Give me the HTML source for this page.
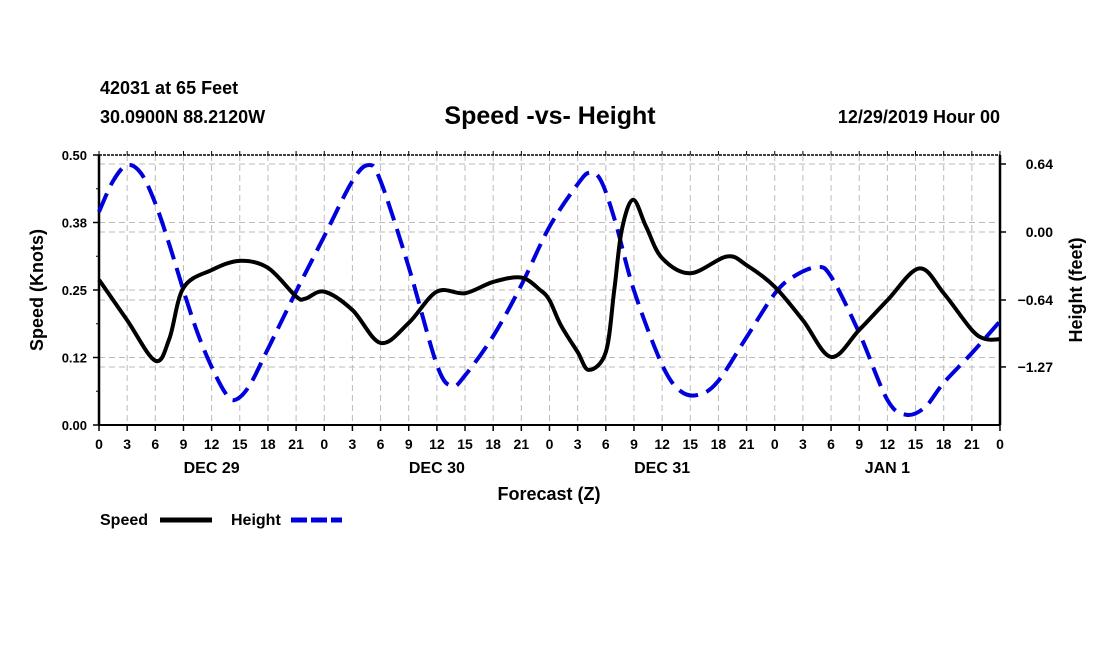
<!DOCTYPE html>
<html><head><meta charset="utf-8">
<style>
body{margin:0;background:#fff;width:1100px;height:650px;overflow:hidden}
svg{font-family:"Liberation Sans",Arial,sans-serif;font-weight:bold}
</style></head>
<body>
<svg id="chart" width="1100" height="650" viewBox="0 0 1100 650" xmlns="http://www.w3.org/2000/svg">
<text x="100" y="94" font-size="18">42031 at 65 Feet</text>
<text x="100" y="123" font-size="18">30.0900N 88.2120W</text>
<text x="550" y="124" font-size="25" text-anchor="middle">Speed -vs- Height</text>
<text x="1000" y="123" font-size="18" text-anchor="end">12/29/2019 Hour 00</text>
<g id="grid"></g>
<g id="axes"></g>
<g id="series"></g>
<text transform="translate(43,290) rotate(-90)" font-size="18" text-anchor="middle">Speed (Knots)</text>
<text transform="translate(1082,290) rotate(-90)" font-size="18" text-anchor="middle">Height (feet)</text>
<text x="549" y="500" font-size="18" text-anchor="middle">Forecast (Z)</text>
<g>
<text x="100" y="525" font-size="16">Speed</text>
<line x1="160" y1="520" x2="212" y2="520" stroke="#000" stroke-width="5"/>
<text x="231" y="525" font-size="16">Height</text>
<line x1="291" y1="520" x2="342" y2="520" stroke="#0000dd" stroke-width="5" stroke-dasharray="16,4"/>
</g>
</svg>
<script>
const dayLabels = ["DEC 29","DEC 30","DEC 31","JAN 1"];
const speedTicks = [0, 0.125, 0.25, 0.375, 0.5];
const speedTickLabels = ["0.00","0.12","0.25","0.38","0.50"];
const heightTicks = [0.64, 0.0, -0.64, -1.27];
const heightTickLabels = ["0.64","0.00","\u22120.64","\u22121.27"];
const speedHours = [0,3,6,7.5,9,12,15,18,21,22,24,27,30,33,36,39,42,45,47,48,49.2,51,52.2,54,54.9,55.7,56.9,58.3,60,63,66.9,69,72,75,78,81,84,87.4,90,93,94.5,96];
const speedValues = [0.269,0.194,0.119,0.16,0.254,0.287,0.304,0.291,0.238,0.234,0.247,0.213,0.152,0.189,0.247,0.244,0.265,0.273,0.25,0.231,0.185,0.135,0.102,0.135,0.25,0.361,0.417,0.367,0.309,0.281,0.312,0.296,0.256,0.194,0.126,0.176,0.231,0.290,0.244,0.176,0.159,0.159];
const heightHours = [0,1.5,3,4.5,6,7.5,9,10.5,12,13.5,14.5,16,18,21,24,27,28.7,30,33,36,37.6,39,42,45,48,51,52.3,53.5,55,57,60,62,64,66,69,72,74,76.5,78,81,84,86,88,90,93,96];
const heightValues = [0.19,0.48,0.63,0.55,0.27,-0.12,-0.55,-0.95,-1.27,-1.52,-1.58,-1.45,-1.10,-0.56,-0.04,0.48,0.63,0.48,-0.33,-1.25,-1.45,-1.35,-0.98,-0.50,0.05,0.45,0.56,0.48,0.10,-0.55,-1.25,-1.50,-1.53,-1.40,-0.99,-0.58,-0.42,-0.33,-0.42,-0.95,-1.58,-1.72,-1.65,-1.42,-1.14,-0.84];

const L=99,R=1000,T=155,B=425,NS="http://www.w3.org/2000/svg";
const xS=h=>L+h*(R-L)/96;
const yS=v=>B-v*(B-T)/0.5;
const yH=v=>232-v*106.25;
function mk(tag,attrs,parent){const e=document.createElementNS(NS,tag);for(const k in attrs)e.setAttribute(k,attrs[k]);parent.appendChild(e);return e;}
const grid=document.getElementById('grid'),axes=document.getElementById('axes'),series=document.getElementById('series');
for(let h=3;h<96;h+=3){const l=mk('line',{x1:xS(h),x2:xS(h),y1:T,y2:B,stroke:'#bbb','stroke-dasharray':'6,4'},grid);

}
speedTicks.forEach((v,i)=>{if(v>0&&v<0.5){const l=mk('line',{x1:L,x2:R,y1:yS(v),y2:yS(v),stroke:'#bbb','stroke-dasharray':'6,4'},grid);

}
mk('line',{x1:L-6,x2:L,y1:yS(v),y2:yS(v),stroke:'#000','stroke-width':1.5},axes);
const t=mk('text',{x:L-12,y:yS(v)+5,'font-size':13,'text-anchor':'end'},axes);t.textContent=speedTickLabels[i];

});
for(let k=0;k<4;k++){const v=0.0625+k*0.125;mk('line',{x1:L-3,x2:L,y1:yS(v),y2:yS(v),stroke:'#000'},axes);}
heightTicks.forEach((v,i)=>{const l=mk('line',{x1:L,x2:R,y1:yH(v),y2:yH(v),stroke:'#bbb','stroke-dasharray':'6,4'},grid);


mk('line',{x1:R,x2:R+6,y1:yH(v),y2:yH(v),stroke:'#000','stroke-width':1.5},axes);
const t=mk('text',{x:1053,y:yH(v)+5,'font-size':14,'text-anchor':'end'},axes);t.textContent=heightTickLabels[i];

});
mk('line',{x1:L,x2:R,y1:T,y2:T,stroke:'#000','stroke-width':1.5,'stroke-dasharray':'3,1'},axes);
mk('line',{x1:L,x2:R,y1:B,y2:B,stroke:'#000','stroke-width':2},axes);
mk('line',{x1:L,x2:L,y1:T,y2:B,stroke:'#000','stroke-width':2.5},axes);
mk('line',{x1:R,x2:R,y1:T,y2:B,stroke:'#000','stroke-width':2.5},axes);
for(let h=0;h<=96;h+=3){mk('line',{x1:xS(h),x2:xS(h),y1:B,y2:B+6,stroke:'#000','stroke-width':1.5},axes);
mk('line',{x1:xS(h),x2:xS(h),y1:T,y2:T-4,stroke:'#000'},axes);
const t=mk('text',{x:xS(h),y:449,'font-size':14,'text-anchor':'middle'},axes);t.textContent=String(h%24);

}
dayLabels.forEach((d,i)=>{const t=mk('text',{x:xS(12+24*i),y:473,'font-size':16,'text-anchor':'middle'},axes);t.textContent=d;

});
function path(xs,ys){const p=xs.map((x,i)=>[x,ys[i]]);let d='M'+p[0][0]+','+p[0][1];
for(let i=0;i<p.length-1;i++){const p0=p[Math.max(i-1,0)],p1=p[i],p2=p[i+1],p3=p[Math.min(i+2,p.length-1)];
d+=' C'+(p1[0]+(p2[0]-p0[0])/6)+','+(p1[1]+(p2[1]-p0[1])/6)+' '+(p2[0]-(p3[0]-p1[0])/6)+','+(p2[1]-(p3[1]-p1[1])/6)+' '+p2[0]+','+p2[1];}return d;}
const hp=mk('path',{d:path(heightHours.map(xS),heightValues.map(yH)),fill:'none',stroke:'#0000dd','stroke-width':4,'stroke-dasharray':'20,9'},series);


const sp=mk('path',{d:path(speedHours.map(xS),speedValues.map(yS)),fill:'none',stroke:'#000','stroke-width':4,'stroke-linejoin':'round'},series);


</script>
</body></html>
